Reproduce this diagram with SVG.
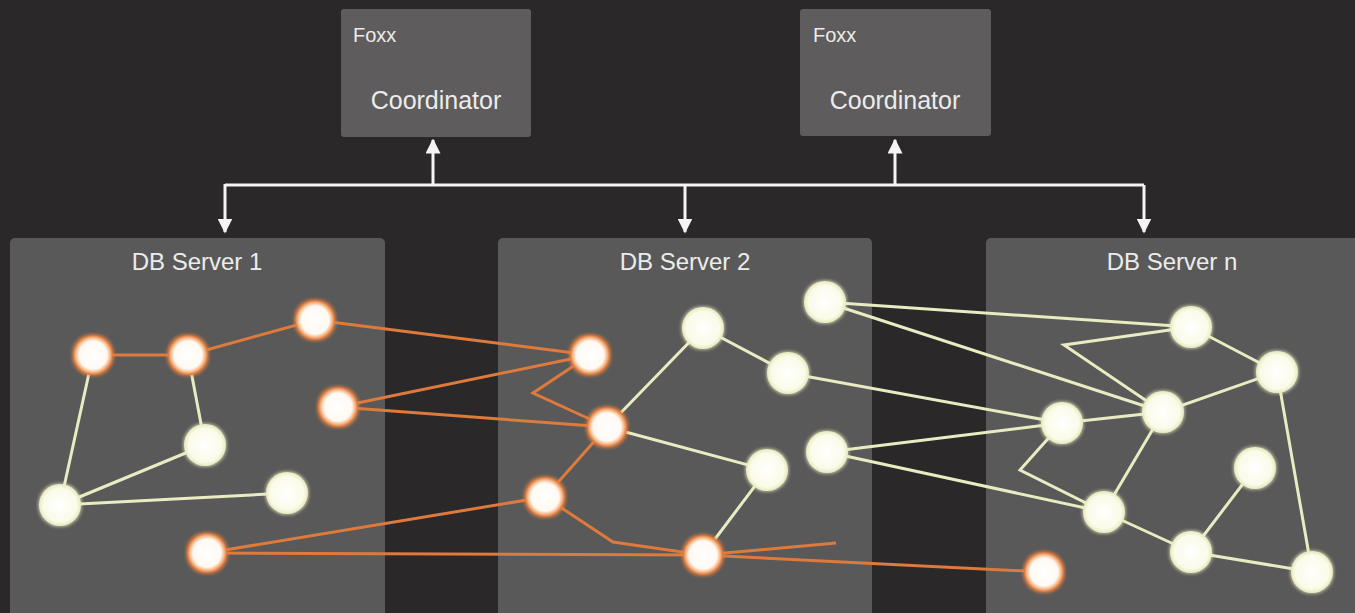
<svg xmlns="http://www.w3.org/2000/svg" width="1355" height="613" viewBox="0 0 1355 613">
<defs>
<style>
.bg{fill:#2a2828}
.coord{fill:#5e5c5c}
.srv{fill:#5a5959}
.t{font-family:"Liberation Sans",Arial,sans-serif;fill:#ececec}
.bus{stroke:#f4f4f4;stroke-width:3;fill:none}
.eo{stroke:#dd7a3c;stroke-width:3;fill:none;stroke-linejoin:miter}
.ec{stroke:#e9ecc2;stroke-width:3;fill:none}
.no{fill:url(#go);filter:url(#glowO)}
.nc{fill:url(#gc);filter:url(#glowC)}
</style>
<radialGradient id="go" cx="50%" cy="50%" r="50%">
<stop offset="0" stop-color="#ffffff"/>
<stop offset="0.7" stop-color="#fff9f2"/>
<stop offset="0.86" stop-color="#f5b888"/>
<stop offset="1" stop-color="#d96e33"/>
</radialGradient>
<radialGradient id="gc" cx="50%" cy="50%" r="50%">
<stop offset="0" stop-color="#ffffff"/>
<stop offset="0.8" stop-color="#fafbe8"/>
<stop offset="1" stop-color="#e6e9bd"/>
</radialGradient>
<filter id="glowO" x="-40%" y="-40%" width="180%" height="180%">
<feMorphology in="SourceAlpha" operator="dilate" radius="1" result="d"/>
<feGaussianBlur in="d" stdDeviation="1.5" result="b"/>
<feFlood flood-color="#e8843f" flood-opacity="0.8" result="f"/>
<feComposite in="f" in2="b" operator="in" result="g"/>
<feMerge><feMergeNode in="g"/><feMergeNode in="SourceGraphic"/></feMerge>
</filter>
<filter id="glowC" x="-40%" y="-40%" width="180%" height="180%">
<feMorphology in="SourceAlpha" operator="dilate" radius="1" result="d"/>
<feGaussianBlur in="d" stdDeviation="1.5" result="b"/>
<feFlood flood-color="#eef0c6" flood-opacity="0.6" result="f"/>
<feComposite in="f" in2="b" operator="in" result="g"/>
<feMerge><feMergeNode in="g"/><feMergeNode in="SourceGraphic"/></feMerge>
</filter>
<marker id="ah" viewBox="0 0 10 10" refX="9" refY="5" markerWidth="5" markerHeight="5" orient="auto" markerUnits="strokeWidth">
<path d="M0,0 L10,5 L0,10 z" fill="#f4f4f4"/>
</marker>
</defs>
<rect class="bg" x="0" y="0" width="1355" height="613"/>

<g id="coordinator1">
<rect class="coord" x="341" y="9" width="190" height="128" rx="3"/>
<text class="t" x="353" y="42" font-size="20">Foxx</text>
<text class="t" x="436" y="109" font-size="25" text-anchor="middle">Coordinator</text>
</g>
<g id="coordinator2">
<rect class="coord" x="800" y="9" width="191" height="127" rx="3"/>
<text class="t" x="813" y="42" font-size="20">Foxx</text>
<text class="t" x="895" y="109" font-size="25" text-anchor="middle">Coordinator</text>
</g>

<g id="server1">
<rect class="srv" x="10" y="238" width="375" height="380" rx="5"/>
<text class="t" x="197" y="270" font-size="24" text-anchor="middle">DB Server 1</text>
</g>
<g id="server2">
<rect class="srv" x="498" y="238" width="374" height="380" rx="5"/>
<text class="t" x="685" y="270" font-size="24" text-anchor="middle">DB Server 2</text>
</g>
<g id="servern">
<rect class="srv" x="986" y="238" width="375" height="380" rx="5"/>
<text class="t" x="1172" y="270" font-size="24" text-anchor="middle">DB Server n</text>
</g>

<g id="bus-connectors">
<path class="bus" d="M225,185 H1144"/>
<path class="bus" d="M433,185 V140" marker-end="url(#ah)"/>
<path class="bus" d="M895,185 V140" marker-end="url(#ah)"/>
<path class="bus" d="M225,184 V232" marker-end="url(#ah)"/>
<path class="bus" d="M685,185 V232" marker-end="url(#ah)"/>
<path class="bus" d="M1144,185 V232" marker-end="url(#ah)"/>
</g>

<g id="graph-edges">
<path class="eo" d="M93,355 L188,355"/>
<path class="eo" d="M188,355 L315,320"/>
<path class="eo" d="M315,320 L590,355"/>
<path class="eo" d="M338,407 L590,355"/>
<path class="eo" d="M338,407 L607,427"/>
<path class="eo" d="M590,355 L533,393 L607,427"/>
<path class="eo" d="M607,427 L545,497"/>
<path class="eo" d="M207,553 L545,497"/>
<path class="eo" d="M207,553 L703,555"/>
<path class="eo" d="M545,497 L613,542 L703,555"/>
<path class="eo" d="M703,555 L836,543"/>
<path class="eo" d="M703,555 L1044,572"/>
<path class="ec" d="M93,355 L60,505"/>
<path class="ec" d="M188,355 L205,445"/>
<path class="ec" d="M205,445 L60,505"/>
<path class="ec" d="M60,505 L287,493"/>
<path class="ec" d="M607,427 L703,328"/>
<path class="ec" d="M703,328 L788,373"/>
<path class="ec" d="M607,427 L767,470"/>
<path class="ec" d="M767,470 L703,555"/>
<path class="ec" d="M825,302 L1191,327"/>
<path class="ec" d="M825,302 L1163,412"/>
<path class="ec" d="M1191,327 L1064,345 L1163,412"/>
<path class="ec" d="M1191,327 L1277,372"/>
<path class="ec" d="M1277,372 L1163,412"/>
<path class="ec" d="M1277,372 L1312,572"/>
<path class="ec" d="M788,373 L1062,423"/>
<path class="ec" d="M1062,423 L1163,412"/>
<path class="ec" d="M827,452 L1062,423"/>
<path class="ec" d="M827,452 L1104,512"/>
<path class="ec" d="M1062,423 L1020,470 L1104,512"/>
<path class="ec" d="M1163,412 L1104,512"/>
<path class="ec" d="M1104,512 L1191,552"/>
<path class="ec" d="M1191,552 L1255,468"/>
<path class="ec" d="M1191,552 L1312,572"/>
</g>

<g id="node-s1-a"><circle class="no" cx="93" cy="355" r="20"/></g>
<g id="node-s1-b"><circle class="no" cx="188" cy="355" r="20"/></g>
<g id="node-s1-c"><circle class="no" cx="315" cy="320" r="20"/></g>
<g id="node-s1-d"><circle class="no" cx="338" cy="407" r="20"/></g>
<g id="node-s1-e"><circle class="nc" cx="205" cy="445" r="21"/></g>
<g id="node-s1-f"><circle class="nc" cx="60" cy="505" r="21"/></g>
<g id="node-s1-g"><circle class="nc" cx="287" cy="493" r="21"/></g>
<g id="node-s1-h"><circle class="no" cx="207" cy="553" r="20"/></g>

<g id="node-s2-i"><circle class="no" cx="590" cy="355" r="20"/></g>
<g id="node-s2-j"><circle class="no" cx="607" cy="427" r="20"/></g>
<g id="node-s2-k"><circle class="no" cx="545" cy="497" r="20"/></g>
<g id="node-s2-l"><circle class="no" cx="703" cy="555" r="20"/></g>
<g id="node-s2-m"><circle class="nc" cx="703" cy="328" r="21"/></g>
<g id="node-s2-n"><circle class="nc" cx="788" cy="373" r="21"/></g>
<g id="node-s2-o"><circle class="nc" cx="767" cy="470" r="21"/></g>
<g id="node-s2-p"><circle class="nc" cx="825" cy="302" r="21"/></g>
<g id="node-s2-q"><circle class="nc" cx="827" cy="452" r="21"/></g>

<g id="node-sn-r"><circle class="nc" cx="1191" cy="327" r="21"/></g>
<g id="node-sn-s"><circle class="nc" cx="1277" cy="372" r="21"/></g>
<g id="node-sn-t"><circle class="nc" cx="1163" cy="412" r="21"/></g>
<g id="node-sn-u"><circle class="nc" cx="1062" cy="423" r="21"/></g>
<g id="node-sn-v"><circle class="nc" cx="1104" cy="512" r="21"/></g>
<g id="node-sn-w"><circle class="nc" cx="1255" cy="468" r="21"/></g>
<g id="node-sn-x"><circle class="nc" cx="1191" cy="552" r="21"/></g>
<g id="node-sn-y"><circle class="nc" cx="1312" cy="572" r="21"/></g>
<g id="node-sn-z"><circle class="no" cx="1044" cy="572" r="20"/></g>
</svg>
